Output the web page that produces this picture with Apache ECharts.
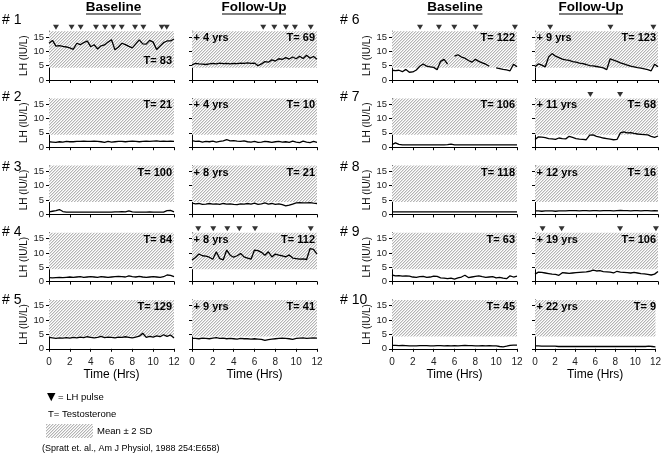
<!DOCTYPE html>
<html><head><meta charset="utf-8">
<script src="https://cdn.jsdelivr.net/npm/echarts@6/dist/echarts.min.js"></script>
<style>html,body{margin:0;padding:0;background:#fff}#c{width:664px;height:456px}</style>
</head><body><div id="c"></div>
<script>
// ---------------- data ----------------
const timesMin = [0,20,40,60,80,100,120,140,160,180,200,220,240,260,280,300,320,340,360,380,400,420,440,460,480,500,520,540,560,580,600,620,640,660,680,700,720];
const xTicks = [0,2,4,6,8,10,12];
const yTicks = [0,5,10,15];
const normalRange = [4.3, 17];
const subjects = ['# 1','# 2','# 3','# 4','# 5','# 6','# 7','# 8','# 9','# 10'];
const followYears = ['+ 4 yrs','+ 4 yrs','+ 8 yrs','+ 8 yrs','+ 9 yrs','+ 9 yrs','+ 11 yrs','+ 12 yrs','+ 19 yrs','+ 22 yrs'];
const tBaseline = [83,21,100,84,129,122,106,118,63,45];
const tFollow = [69,10,21,112,41,123,68,16,106,9];

const lh1b = [12.8,13.8,11.8,12.0,11.7,11.5,11.2,10.7,12.8,12.3,13.0,13.6,11.6,12.3,10.8,11.9,12.2,13.2,14.0,10.5,11.5,12.8,12.3,11.7,11.2,12.6,14.0,12.6,12.5,13.8,13.2,10.6,11.8,13.0,13.6,13.6,14.3];
const lh1f = [5.3,5.8,5.6,5.5,5.4,5.6,5.8,5.6,5.9,5.7,5.8,5.6,5.8,5.7,5.9,5.8,6.0,5.8,5.9,5.0,5.6,6.4,6.2,7.0,6.6,7.4,7.2,7.8,7.3,8.0,7.4,8.3,7.5,8.6,7.6,8.2,7.2];
const lh2b = [1.9,1.8,1.7,1.9,1.8,2.0,1.9,1.9,2.0,2.0,2.1,2.0,2.0,2.1,2.0,1.9,1.7,2.0,1.8,1.9,2.0,2.0,1.9,2.0,2.1,2.0,1.9,2.0,2.1,2.0,2.1,2.2,2.0,2.1,2.0,2.1,2.0];
const lh2f = [2.3,2.0,2.1,1.8,2.0,1.9,2.1,1.8,2.0,2.2,2.6,2.2,2.3,2.1,2.0,2.2,1.9,1.8,2.0,1.7,1.8,2.0,1.9,1.7,1.9,2.0,1.8,1.9,1.7,2.1,1.8,1.6,2.1,1.8,1.6,2.0,1.7];
const lh3b = [0.9,1.1,1.3,1.7,1.0,0.8,0.8,0.8,0.8,0.8,0.8,0.8,0.8,0.8,0.8,0.8,0.8,0.8,0.8,0.9,0.9,1.0,0.9,1.2,0.9,0.8,0.8,0.8,0.8,0.9,0.8,0.8,0.8,0.8,1.3,1.4,0.9];
const lh3f = [3.9,3.7,3.8,3.5,3.6,3.8,3.6,3.7,3.5,3.8,3.6,3.7,3.5,3.4,3.7,3.6,3.8,3.6,3.9,3.5,3.7,4.0,3.6,3.8,3.5,3.7,3.4,3.0,3.2,3.6,4.0,4.1,4.0,4.0,4.1,3.9,3.8];
const lh4b = [1.4,1.3,1.4,1.5,1.4,1.5,1.6,1.5,1.6,1.7,1.5,1.6,1.7,1.6,1.5,1.7,1.6,1.5,1.6,1.7,1.8,1.7,1.6,2.0,1.7,1.6,1.8,1.6,1.5,1.6,1.7,1.6,1.5,1.7,2.3,2.2,1.7];
const lh4f = [7.5,8.4,9.6,9.0,8.9,8.5,7.8,10.4,8.0,7.6,11.0,9.2,8.5,9.0,9.8,8.6,8.2,7.8,11.0,10.8,10.2,9.2,10.4,8.6,9.6,9.2,9.0,8.6,9.3,8.2,8.0,7.8,7.9,7.7,11.5,11.2,9.6];
const lh5b = [4.0,3.8,3.6,3.8,3.7,3.9,3.7,4.0,3.8,4.1,3.9,4.2,4.0,3.8,4.0,4.3,3.9,4.1,4.0,3.8,4.1,4.0,4.2,4.0,3.8,4.1,4.4,5.4,4.0,4.3,4.1,4.5,4.2,4.9,4.3,4.8,3.8];
const lh5f = [3.6,3.6,3.5,3.7,3.6,3.5,3.7,3.9,3.6,3.7,3.5,3.6,3.5,3.4,3.6,3.5,3.5,3.4,3.5,3.4,3.3,2.9,3.2,3.4,3.5,3.6,3.7,3.6,3.5,3.3,3.6,3.7,3.8,3.6,3.7,3.8,3.7];
const lh6b = [3.4,3.3,3.4,2.9,3.7,2.7,2.8,3.5,4.8,5.6,4.8,4.6,4.4,3.6,6.5,7.2,5.5,null,8.3,8.8,8.0,7.6,6.8,6.2,7.2,6.5,6.0,5.5,4.8,null,4.2,4.0,3.7,3.5,3.2,5.5,4.6];
const lh6f = [4.6,5.6,5.2,4.6,8.0,9.2,8.3,7.8,7.3,7.0,6.8,6.4,6.2,5.9,5.7,5.4,5.0,4.9,4.7,4.5,4.2,3.6,7.4,6.9,6.5,6.0,5.6,5.2,4.8,4.6,4.3,4.1,3.9,3.6,3.2,5.5,4.6];
const lh7b = [0.9,1.5,1.0,0.8,0.8,0.8,0.8,0.8,0.8,0.8,0.8,0.8,0.8,0.8,0.8,0.8,0.9,1.1,0.8,0.8,0.8,0.8,0.8,0.8,0.8,0.8,0.8,0.8,0.8,0.8,0.8,0.8,0.8,0.8,0.8,0.8,0.8];
const lh7f = [2.7,3.6,3.5,3.3,3.0,2.9,2.7,3.2,3.0,2.9,3.8,3.4,3.0,2.8,2.7,2.6,4.2,4.3,3.8,3.5,3.2,3.0,2.8,2.6,2.7,5.0,5.3,5.0,5.1,4.8,4.6,4.5,4.4,4.3,3.8,3.4,3.9];
const lh8b = [0.9,0.9,0.9,0.9,0.9,0.9,0.9,0.9,0.9,0.9,0.9,0.9,0.9,0.9,0.9,0.9,0.9,0.9,0.9,0.9,0.9,0.9,0.9,0.9,0.9,0.9,0.9,0.9,0.9,0.9,0.9,0.9,0.9,0.9,0.9,0.9,0.9];
const lh8f = [1.2,1.2,1.1,1.2,1.2,1.2,1.1,1.2,1.2,1.2,1.3,1.3,1.3,1.2,1.3,1.3,1.2,1.3,1.3,1.2,1.3,1.3,1.3,1.2,1.3,1.4,1.3,1.3,1.2,1.3,1.3,1.2,1.3,1.3,1.2,1.3,1.2];
const lh9b = [2.3,2.0,2.1,1.9,2.0,1.9,1.6,1.5,1.7,1.8,1.5,1.6,1.9,1.8,1.3,1.2,1.0,1.2,0.9,1.3,1.6,2.2,1.4,1.6,1.8,2.0,1.7,1.5,1.6,1.7,1.3,1.5,1.2,1.0,2.0,1.6,1.9];
const lh9f = [2.6,3.3,3.2,3.0,2.8,2.6,2.5,2.2,3.1,3.0,2.9,3.0,3.1,3.2,3.3,3.4,3.6,4.0,3.7,3.8,3.5,3.4,3.3,3.0,3.6,3.3,3.2,3.1,3.0,3.2,3.0,2.8,2.7,2.5,2.3,2.6,3.5];
const lh10b = [1.2,1.2,1.1,1.2,1.1,1.0,1.0,1.0,1.1,1.1,1.1,1.0,1.0,1.1,1.1,1.0,1.1,1.0,1.1,1.0,1.1,1.2,1.1,1.1,1.0,1.0,1.1,1.0,1.1,1.0,1.0,0.8,0.7,0.9,1.2,1.3,1.3];
const lh10f = [1.0,1.0,0.9,0.9,0.9,0.9,0.9,0.8,0.8,0.8,0.8,0.8,0.8,0.8,0.8,0.8,0.8,0.8,0.8,0.8,0.8,0.8,0.8,0.8,0.8,0.8,0.8,0.8,0.8,0.8,0.8,0.8,0.8,0.8,0.9,0.8,0.7];

// LH pulse times (hours)
const pulse1b = [0.67,2.17,3.04,4.51,5.38,6.17,6.98,8.26,9.06,10.82,11.3];
const pulse1f = [6.84,7.9,9.02,9.88,11.4];
const pulse4f = [0.6,2.04,3.39,4.54,6.05,11.4];
const pulse6b = [2.69,4.51,5.98,8.03,11.8];
const pulse6f = [1.48,7.36,11.55];
const pulse7f = [5.4,8.3];
const pulse9f = [0.74,2.6,8.3,11.8];
const pulseY = 18.4;

const baselineSeries = [lh1b,lh2b,lh3b,lh4b,lh5b,lh6b,lh7b,lh8b,lh9b,lh10b];
const followSeries = [lh1f,lh2f,lh3f,lh4f,lh5f,lh6f,lh7f,lh8f,lh9f,lh10f];
const baselinePulses = [pulse1b,[],[],[],[],pulse6b,[],[],[],[]];
const followPulses = [pulse1f,[],[],pulse4f,[],pulse6f,pulse7f,[],pulse9f,[]];

// ---------------- layout ----------------
const FONT = '"Liberation Sans", Arial, sans-serif';
const colLeft = [49, 192, 392, 535];
const colWidth = [125, 125, 125, 123];
const rowBottom0 = 80, rowPitch = 67.2, gridH = 48.8;
const hashY = [20, 97, 167, 232, 300];

function hatchCanvas(){
  const c = document.createElement('canvas'); c.width = 3; c.height = 3;
  const g = c.getContext('2d');
  g.fillStyle = '#ffffff'; g.fillRect(0,0,3,3);
  g.fillStyle = '#b4b4b4';
  g.fillRect(2,0,1,1); g.fillRect(1,1,1,1); g.fillRect(0,2,1,1);
  g.fillStyle = '#e2e2e2';
  g.fillRect(0,0,1,1); g.fillRect(2,1,1,1); g.fillRect(1,2,1,1);
  return c;
}
const hatch = hatchCanvas();
const hatchFill = {image: hatch, repeat: 'repeat'};

const grids = [], xAxes = [], yAxes = [], series = [], graphics = [];

function addPanel(p, side){
  const group = p < 5 ? 0 : 1, row = p % 5, col = group*2 + side;
  const idx = grids.length;
  const bottom = rowBottom0 + rowPitch*row, top = bottom - gridH;
  grids.push({left: colLeft[col], top: top, width: colWidth[col], height: gridH});
  const last = row === 4;
  xAxes.push({gridIndex: idx, type: 'value', min: 0, max: 12, interval: 2,
    axisLine: {onZero: false, lineStyle: {color: '#000', width: 1}},
    axisTick: {length: 3, lineStyle: {color: '#000'}},
    axisLabel: {show: last, fontSize: 10, color: '#222', margin: 8, fontFamily: FONT},
    splitLine: {show: false},
    name: last ? 'Time (Hrs)' : '', nameLocation: 'middle', nameGap: 20,
    nameTextStyle: {fontSize: 12, color: '#000', fontFamily: FONT}});
  yAxes.push({gridIndex: idx, type: 'value', min: 0, max: 17,
    axisLine: {show: true, lineStyle: {color: '#000', width: 1}},
    axisTick: {show: true, length: 3, customValues: yTicks, lineStyle: {color: '#000'}},
    axisLabel: {show: side === 0, customValues: yTicks, fontSize: 9.5, color: '#222', margin: 5, fontFamily: FONT},
    splitLine: {show: false},
    name: side === 0 ? 'LH (IU/L)' : '', nameLocation: 'middle', nameGap: 18, nameRotate: 90,
    nameTextStyle: {fontSize: 10, color: '#111', fontFamily: FONT}});
  const vals = side === 0 ? baselineSeries[p] : followSeries[p];
  series.push({type: 'line', xAxisIndex: idx, yAxisIndex: idx,
    data: timesMin.map((t,i) => [t/60, vals[i]]),
    showSymbol: false, connectNulls: false, silent: true,
    lineStyle: {color: '#000', width: 1.3}, z: 3,
    markArea: {silent: true, itemStyle: {color: hatchFill, borderWidth: 0},
      data: [[{xAxis: 0, yAxis: normalRange[0]}, {xAxis: 12, yAxis: normalRange[1]}]]}});
  const pulses = side === 0 ? baselinePulses[p] : followPulses[p];
  if (pulses.length) series.push({type: 'scatter', xAxisIndex: idx, yAxisIndex: idx,
    data: pulses.map(t => [t, pulseY]), symbol: 'triangle', symbolRotate: 180,
    symbolSize: [6,5], itemStyle: {color: '#000'}, clip: false, silent: true, z: 4});
  // text labels
  const right = colLeft[col] + colWidth[col];
  const tVal = side === 0 ? tBaseline[p] : tFollow[p];
  const tY = (p === 0 && side === 0) ? top + 29.5 : top + 7;
  graphics.push({type: 'text', x: right - 2, y: tY, silent: true, z: 100,
    style: {text: 'T= ' + tVal, align: 'right', verticalAlign: 'middle', font: 'bold 11px ' + FONT, fill: '#000'}});
  if (side === 1) graphics.push({type: 'text', x: colLeft[col] + 1.5, y: top + 7, silent: true, z: 100,
    style: {text: followYears[p], align: 'left', verticalAlign: 'middle', font: 'bold 11px ' + FONT, fill: '#000'}});
  if (side === 0) graphics.push({type: 'text', x: group === 0 ? 2 : 340, y: hashY[row], silent: true, z: 100,
    style: {text: subjects[p], align: 'left', verticalAlign: 'middle', font: '14px ' + FONT, fill: '#000'}});
}
for (let p = 0; p < 10; p++){ addPanel(p, 0); addPanel(p, 1); }

// headers
const headers = [['Baseline', 113.5, 55], ['Follow-Up', 254, 64], ['Baseline', 455, 55], ['Follow-Up', 591, 64]];
headers.forEach(h => {
  graphics.push({type: 'text', x: h[1], y: 7, silent: true, z: 100,
    style: {text: h[0], align: 'center', verticalAlign: 'middle', font: 'bold 13.5px ' + FONT, fill: '#000'}});
  graphics.push({type: 'line', silent: true, z: 100, shape: {x1: h[1]-h[2]/2, y1: 14, x2: h[1]+h[2]/2, y2: 14},
    style: {stroke: '#000', lineWidth: 1.2}});
});
// legend notes
graphics.push({type: 'text', x: 47, y: 397.5, silent: true, z: 100, style: {text: '▼', align: 'left', verticalAlign: 'middle', font: 'bold 11px "DejaVu Sans"', fill: '#000'}});
graphics.push({type: 'text', x: 58, y: 397.5, silent: true, z: 100, style: {text: '= LH pulse', align: 'left', verticalAlign: 'middle', font: '9.5px ' + FONT, fill: '#000'}});
graphics.push({type: 'text', x: 48, y: 414, silent: true, z: 100, style: {text: 'T= Testosterone', align: 'left', verticalAlign: 'middle', font: '9.5px ' + FONT, fill: '#000'}});
graphics.push({type: 'rect', silent: true, z: 100, shape: {x: 46, y: 424, width: 47, height: 14}, style: {fill: hatchFill}});
graphics.push({type: 'text', x: 97, y: 431, silent: true, z: 100, style: {text: 'Mean ± 2 SD', align: 'left', verticalAlign: 'middle', font: '9.5px ' + FONT, fill: '#000'}});
graphics.push({type: 'text', x: 42, y: 448.5, silent: true, z: 100, style: {text: '(Spratt et. al., Am J Physiol, 1988 254:E658)', align: 'left', verticalAlign: 'middle', font: '9px ' + FONT, fill: '#000'}});

const chart = echarts.init(document.getElementById('c'), null, {renderer: 'canvas'});
chart.setOption({
  animation: false,
  backgroundColor: '#fff',
  textStyle: {fontFamily: FONT},
  grid: grids, xAxis: xAxes, yAxis: yAxes, series: series,
  graphic: {elements: graphics}
});
</script>
</body></html>
